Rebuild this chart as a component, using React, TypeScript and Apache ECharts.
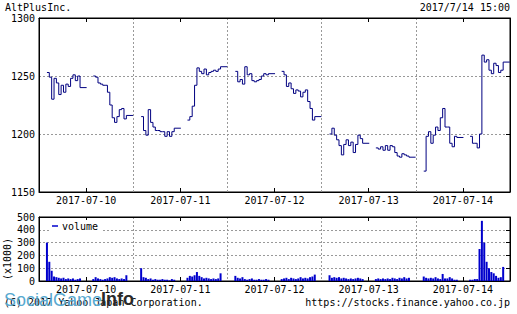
import React, { useEffect, useRef } from 'react';
import * as echarts from 'echarts';

const titleText = 'AltPlusInc.';
const stampText = '2017/7/14 15:00';
const copyrightText = '(C) 2017 Yahoo Japan Corporation.';
const sourceText = 'https://stocks.finance.yahoo.co.jp';
const days = ['2017-07-10', '2017-07-11', '2017-07-12', '2017-07-13', '2017-07-14'];
const priceRange = [1150, 1300];
const priceStep = 50;
const volumeRange = [0, 500];
const volumeStep = 100;

// 15 readings per session: morning 9:00-11:30, afternoon 12:30-15:00
const price0710 = [
  1253, 1249, 1230, 1248, 1244, 1234, 1242, 1236, 1243, 1241, 1248, 1251, 1246, 1250, 1240,
  1250, 1249, 1244, 1243, 1242, 1242, 1236, 1225, 1214, 1210, 1215, 1221, 1222, 1213, 1216,
];
const price0711 = [
  1215, 1203, 1199, 1221, 1210, 1206, 1203, 1203, 1202, 1202, 1198, 1202, 1198, 1202, 1205,
  1212, 1215, 1224, 1242, 1257, 1254, 1252, 1256, 1251, 1253, 1254, 1255, 1254, 1256, 1258,
];
const price0712 = [
  1254, 1245, 1247, 1243, 1258, 1251, 1252, 1246, 1245, 1246, 1247, 1250, 1252, 1251, 1252,
  1254, 1251, 1241, 1244, 1239, 1235, 1238, 1237, 1232, 1236, 1238, 1228, 1222, 1212, 1215,
];
const price0713 = [
  1200, 1205, 1199, 1195, 1190, 1182, 1191, 1195, 1190, 1193, 1184, 1191, 1199, 1196, 1192,
  1188, 1187, 1189, 1186, 1190, 1186, 1190, 1189, 1184, 1181, 1180, 1183, 1182, 1181, 1180,
];
const price0714 = [
  1168, 1198, 1202, 1192, 1199, 1206, 1203, 1214, 1222, 1206, 1206, 1192, 1189, 1198, 1197,
  1198, 1192, 1192, 1188, 1200, 1268, 1262, 1264, 1255, 1252, 1261, 1259, 1253, 1255, 1262,
];

// volume (x1000) per reading
const vol0710 = [
  300, 150, 80, 35, 30, 25, 20, 25, 15, 20, 15, 20, 10, 15, 20,
  15, 30, 20, 15, 10, 15, 20, 30, 25, 30, 20, 15, 20, 15, 45,
];
const vol0711 = [
  100, 30, 25, 15, 20, 10, 15, 10, 10, 15, 10, 10, 5, 15, 10,
  25, 40, 35, 45, 70, 40, 30, 20, 25, 20, 15, 20, 15, 20, 60,
];
const vol0712 = [
  40, 25, 20, 30, 15, 10, 15, 20, 10, 10, 15, 10, 10, 15, 10,
  15, 20, 25, 15, 25, 20, 15, 20, 30, 20, 25, 20, 30, 35, 50,
];
const vol0713 = [
  45, 25, 30, 25, 30, 20, 25, 20, 15, 20, 15, 20, 25, 20, 15,
  15, 20, 15, 20, 15, 20, 15, 25, 20, 15, 25, 20, 30, 20, 25,
];
const vol0714 = [
  35, 25, 20, 25, 20, 30, 20, 15, 55, 20, 20, 30, 20, 10, 10,
  10, 10, 15, 15, 250, 470, 300, 150, 100, 70, 60, 40, 25, 30, 110,
];

const prices = [price0710, price0711, price0712, price0713, price0714];
const volumes = [vol0710, vol0711, vol0712, vol0713, vol0714];

// time axis in minutes: each day window 8:24 - 15:31
const WINDOW_START = 8 * 60 + 24;
const DAY = 427;
const AM_OPEN = 9 * 60;
const PM_OPEN = 12 * 60 + 30;
const SESSION = 150;
const PER_SESSION = 15;

function slotX(d: number, i: number) {
  const open = i < PER_SESSION ? AM_OPEN : PM_OPEN;
  const k = i < PER_SESSION ? i : i - PER_SESSION;
  return d * DAY + (open - WINDOW_START) + (k * SESSION) / (PER_SESSION - 1);
}

function buildPrice() {
  const out: any[] = [];
  prices.forEach((arr, d) => {
    arr.forEach((v, i) => {
      out.push([slotX(d, i), v]);
      if (i === PER_SESSION - 1) out.push([d * DAY + (12 * 60 - WINDOW_START), null]);
    });
    out.push([(d + 1) * DAY - 1, null]);
  });
  return out;
}

function buildVolume() {
  const out: any[] = [];
  volumes.forEach((arr, d) => {
    arr.forEach((v, i) => out.push([slotX(d, i), v]));
  });
  return out;
}

const MONO = 'DejaVu Sans Mono';
const dash = { color: '#999', type: [2, 2] as any, width: 1 };

function gridAxes(gi: number) {
  return [
    {
      gridIndex: gi, type: 'value', min: 0, max: DAY * days.length, interval: DAY,
      axisLine: { show: false }, axisTick: { show: false }, axisLabel: { show: false },
      splitLine: { show: true, lineStyle: dash },
    },
    {
      gridIndex: gi, type: 'category', data: days, position: 'bottom', boundaryGap: true,
      axisLine: { show: true, lineStyle: { color: '#000' } },
      axisTick: { show: true, inside: true, alignWithLabel: true, length: 4, lineStyle: { color: '#000' } },
      axisLabel: { show: true, color: '#000', fontSize: 10, fontFamily: MONO, margin: 3 },
      splitLine: { show: false },
    },
    {
      gridIndex: gi, type: 'category', data: days, position: 'top', boundaryGap: true,
      axisLine: { show: true, lineStyle: { color: '#000' } },
      axisTick: { show: true, inside: true, alignWithLabel: true, length: 4, lineStyle: { color: '#000' } },
      axisLabel: { show: false },
      splitLine: { show: false },
    },
  ];
}

function yAxes(gi: number, range: number[], step: number) {
  return [
    {
      gridIndex: gi, type: 'value', min: range[0], max: range[1], interval: step, position: 'left',
      axisLine: { show: true, lineStyle: { color: '#000' } },
      axisTick: { show: false },
      axisLabel: { color: '#000', fontSize: 10, fontFamily: MONO, margin: 4, formatter: (v: number) => String(v) },
      splitLine: { show: true, lineStyle: dash },
    },
    {
      gridIndex: gi, type: 'value', min: range[0], max: range[1], interval: step, position: 'right',
      axisLine: { show: true, lineStyle: { color: '#000' } },
      axisTick: { show: true, inside: true, length: 4, lineStyle: { color: '#000' } },
      axisLabel: { show: false },
      splitLine: { show: false },
    },
  ];
}

export default function App() {
  const ref = useRef<HTMLDivElement>(null);
  useEffect(() => {
    if (!ref.current) return;
    const chart = echarts.init(ref.current, null, { renderer: 'svg' });
    chart.setOption({
      animation: false,
      backgroundColor: '#fff',
      textStyle: { fontFamily: MONO },
      grid: [
        { left: 39, top: 18, width: 471, height: 174, show: true, borderColor: '#000', borderWidth: 1 },
        { left: 39, top: 217, width: 471, height: 64, show: true, borderColor: '#000', borderWidth: 1 },
      ],
      xAxis: [...gridAxes(0), ...gridAxes(1)],
      yAxis: [...yAxes(0, priceRange, priceStep), ...yAxes(1, volumeRange, volumeStep)],
      legend: {
        data: ['volume'], left: 49, top: 220, icon: 'rect', itemWidth: 6, itemHeight: 1.5, itemGap: 4,
        backgroundColor: '#fff', padding: [1, 3],
        textStyle: { color: '#000', fontSize: 10, fontFamily: MONO, padding: [0, 0, 0, -1] },
      },
      series: [
        {
          name: 'price', type: 'line', xAxisIndex: 0, yAxisIndex: 0, data: buildPrice(),
          step: 'end', showSymbol: false, connectNulls: false,
          lineStyle: { color: '#000080', width: 1 }, itemStyle: { color: '#000080' },
        },
        {
          name: 'volume', type: 'bar', xAxisIndex: 3, yAxisIndex: 2, data: buildVolume(),
          barWidth: 2, itemStyle: { color: '#0000cc' },
        },
      ],
      graphic: [
        { type: 'text', left: 5, top: 2, style: { text: titleText, fontSize: 10, fontFamily: MONO, fill: '#000' } },
        { type: 'text', right: 7, top: 2, style: { text: stampText, fontSize: 10, fontFamily: MONO, fill: '#000' } },
        {
          type: 'text', x: 7, y: 259, rotation: Math.PI / 2,
          style: { text: '(x1000)', fontSize: 10, fontFamily: MONO, fill: '#000', align: 'center', verticalAlign: 'middle' },
        },
        { type: 'text', left: 4, top: 297, z: 1, style: { text: copyrightText, fontSize: 10, fontFamily: MONO, fill: '#000' } },
        { type: 'text', right: 7, top: 297, style: { text: sourceText, fontSize: 10, fontFamily: MONO, fill: '#000' } },
        {
          type: 'text', left: 4, top: 291, z: 100,
          style: { text: 'SocialGame', fontSize: 18, fontFamily: 'Liberation Sans', fill: '#58a9d0' },
        },
        {
          type: 'text', left: 101, top: 290, z: 100,
          style: { text: 'Info', fontSize: 18, fontWeight: 'bold', fontFamily: 'Liberation Sans', fill: '#2a2a2a' },
        },
      ],
    });
    return () => chart.dispose();
  }, []);
  return <div ref={ref} style={{ position: 'fixed', left: 0, top: 0, width: 517, height: 314 }} />;
}
